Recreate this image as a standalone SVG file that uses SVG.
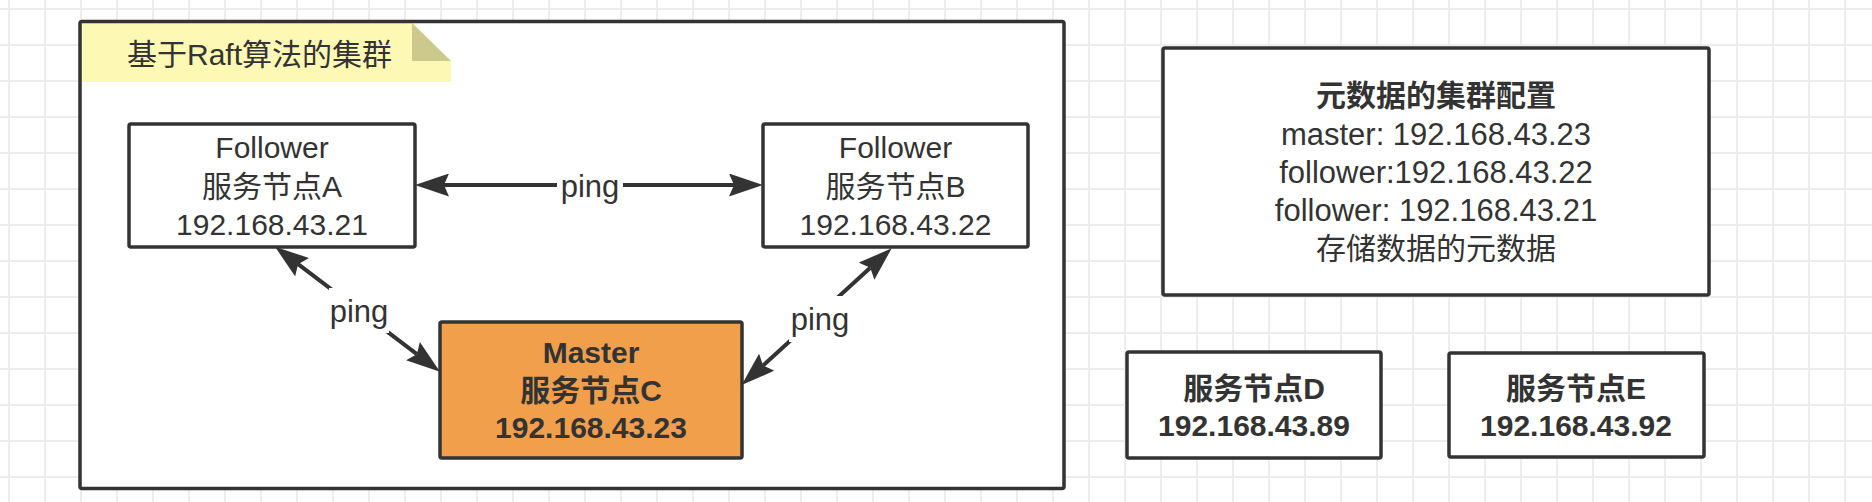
<svg xmlns="http://www.w3.org/2000/svg" width="1872" height="502" viewBox="0 0 1872 502">
<style>
  text { font-family: "Liberation Sans", "Noto Sans CJK SC", sans-serif; fill: #333333; }
  .t { font-size: 30px; text-anchor: middle; }
  .m { font-size: 31px; }
  .b { font-weight: bold; }
  .lbl { font-size: 31px; text-anchor: middle; }
  .box { fill: #ffffff; stroke: #333333; stroke-width: 3.5; }
  .conn { stroke: #333333; stroke-width: 4; fill: none; marker-start: url(#arr); marker-end: url(#arr); }
  .lblbg { fill: #ffffff; stroke: none; }
</style>
<defs>
  <pattern id="grid" patternUnits="userSpaceOnUse" x="0" y="0" width="36" height="36">
    <rect x="8" y="0" width="2" height="36" fill="#ededed"/>
    <rect x="0" y="8" width="36" height="2" fill="#ededed"/>
  </pattern>
  <marker id="arr" viewBox="0 0 34 23" markerWidth="34" markerHeight="23" refX="5" refY="11.5" orient="auto-start-reverse" markerUnits="userSpaceOnUse">
    <path d="M0,0 L34,11.5 L0,23 L5,11.5 Z" fill="#333333"/>
  </marker>
</defs>
<rect x="0" y="0" width="1872" height="502" fill="#ffffff"/>
<rect x="0" y="0" width="1872" height="502" fill="url(#grid)"/>

<g id="cluster">
  <rect x="80" y="21.5" width="984" height="467" rx="2" fill="#ffffff" stroke="none"/>
  <g id="cluster-note">
    <path d="M80,23 L412,23 L451,61 L451,82 L80,82 Z" fill="#fdf8b4"/>
    <path d="M412,23 L412,61 L451,61 Z" fill="#cdc98c"/>
    <text x="127" y="65" style="font-size:30px">基于Raft算法的集群</text>
  </g>
  <rect x="80" y="21.5" width="984" height="467" rx="2" fill="none" stroke="#333333" stroke-width="3.5"/>
</g>

<g id="connectors">
  <line class="conn" x1="444" y1="185" x2="734" y2="185"/>
  <line class="conn" x1="298.1" y1="264.2" x2="416.9" y2="354.2"/>
  <line class="conn" x1="870.3" y1="267.8" x2="763.1" y2="365.5"/>
  <rect class="lblbg" x="557" y="170" width="66" height="32"/>
  <text class="lbl" x="590" y="197">ping</text>
  <rect class="lblbg" x="329" y="288" width="60" height="45"/>
  <text class="lbl" x="359" y="322">ping</text>
  <rect class="lblbg" x="789" y="296" width="62" height="46"/>
  <text class="lbl" x="820" y="330">ping</text>
</g>

<g id="nodeA">
  <rect class="box" x="129" y="124" width="286" height="123" rx="2"/>
  <text class="t" x="272" y="158">Follower</text>
  <text class="t" x="272" y="197">服务节点A</text>
  <text class="t" x="272" y="235">192.168.43.21</text>
</g>

<g id="nodeB">
  <rect class="box" x="763" y="124" width="265" height="123" rx="2"/>
  <text class="t" x="895.5" y="158">Follower</text>
  <text class="t" x="895.5" y="197">服务节点B</text>
  <text class="t" x="895.5" y="235">192.168.43.22</text>
</g>

<g id="nodeC">
  <rect x="440" y="322" width="302" height="136" rx="2" fill="#f29f4c" stroke="#333333" stroke-width="3.5"/>
  <text class="t b" x="591" y="363">Master</text>
  <text class="t b" x="591" y="401">服务节点C</text>
  <text class="t b" x="591" y="438">192.168.43.23</text>
</g>

<g id="metadata">
  <rect class="box" x="1163" y="48" width="546" height="247" rx="2"/>
  <text class="t b" x="1436" y="106">元数据的集群配置</text>
  <text class="t m" x="1436" y="145">master: 192.168.43.23</text>
  <text class="t m" x="1436" y="183">follower:192.168.43.22</text>
  <text class="t m" x="1436" y="221">follower: 192.168.43.21</text>
  <text class="t" x="1436" y="259">存储数据的元数据</text>
</g>

<g id="nodeD">
  <rect class="box" x="1127" y="352" width="254" height="106" rx="2"/>
  <text class="t b" x="1254" y="399">服务节点D</text>
  <text class="t b" x="1254" y="436">192.168.43.89</text>
</g>

<g id="nodeE">
  <rect class="box" x="1449" y="353" width="255" height="104" rx="2"/>
  <text class="t b" x="1576" y="399">服务节点E</text>
  <text class="t b" x="1576" y="436">192.168.43.92</text>
</g>
</svg>
